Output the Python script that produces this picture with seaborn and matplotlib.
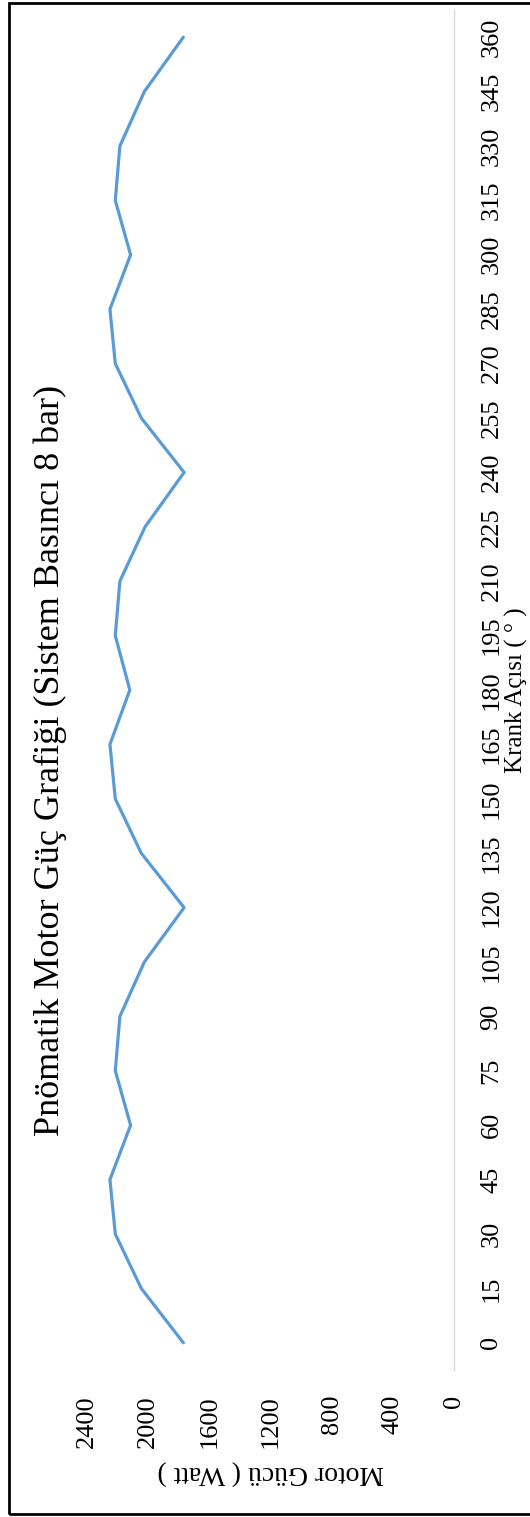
import matplotlib
matplotlib.use("Agg")
import matplotlib.pyplot as plt
from matplotlib.patches import Rectangle
import pandas as pd
import seaborn as sns

# Crank angle (degrees) and motor power (W)
angles = list(range(0, 361, 15))
power = [1770, 2045, 2215, 2250, 2115, 2215, 2185, 2025, 1765,
         2045, 2215, 2250, 2120, 2215, 2185, 2020, 1765,
         2045, 2215, 2250, 2115, 2215, 2185, 2025, 1770]
power_ticks = [0, 400, 800, 1200, 1600, 2000, 2400]

title = "Pnömatik Motor Güç Grafiği (Sistem Basıncı 8 bar)"
xlabel = "Motor Gücü ( Watt )"
ylabel = "Krank Açısı ( ° )"

sns.set_theme(style="white")
plt.rcParams["font.family"] = ["Liberation Serif", "DejaVu Serif"]

W, H = 530, 1517
fig = plt.figure(figsize=(W / 100, H / 100), dpi=100)
ax = fig.add_axes([87 / W, 147 / H, 367 / W, 1360 / H])

df = pd.DataFrame({"angle": angles, "power": power})
sns.lineplot(data=df, x="power", y="angle", orient="y", sort=False,
             color="#5B9BD5", linewidth=2.3, ax=ax)

ax.set_xlim(2400, 0)
ax.set_ylim(-7.5, 367.5)

# power axis along the bottom, labels turned sideways
ax.set_xticks(power_ticks)
ax.set_xticklabels([str(v) for v in power_ticks], rotation=90,
                   va="top", ha="center")
ax.tick_params(axis="x", length=0, pad=18, labelsize=19, colors="black")

# crank-angle axis on the right
ax.yaxis.tick_right()
ax.set_yticks(angles)
ax.set_yticklabels([str(a) for a in angles], rotation=90,
                   va="center", ha="left")
ax.tick_params(axis="y", length=0, pad=19, labelsize=19, colors="black")

for side in ["left", "top", "bottom"]:
    ax.spines[side].set_visible(False)
ax.spines["right"].set_color("#d9d9d9")
ax.spines["right"].set_linewidth(1.0)
ax.grid(False)

ax.set_xlabel(xlabel, rotation=180, fontsize=20, labelpad=9, color="black")
ax.yaxis.set_label_position("right")
ax.set_ylabel(ylabel, rotation=90, fontsize=18, labelpad=2, color="black")

fig.text(50 / W, 1 - 760 / H, title, rotation=90, ha="center",
         va="center", fontsize=26, color="black")

# outer frame
fig.patches.append(Rectangle((9 / W, 3 / H), 1.0, 1511 / H,
                             transform=fig.transFigure, fill=False,
                             edgecolor="black", linewidth=2.0))

fig.savefig("out.png", dpi=100)
